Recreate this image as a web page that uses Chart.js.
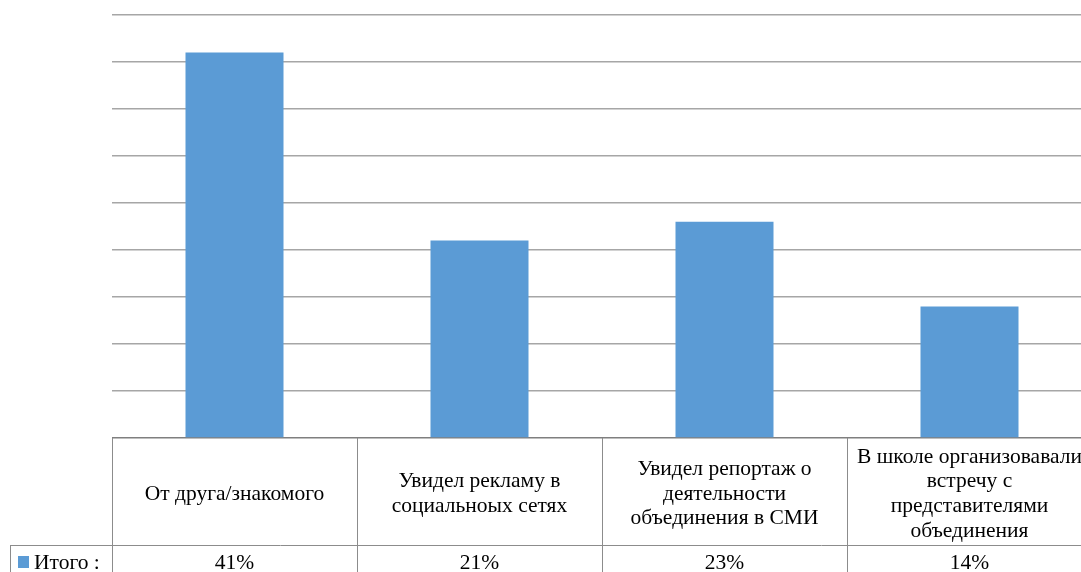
<!DOCTYPE html>
<html lang="ru">
  <head>
    <meta charset="UTF-8" />
    <script src="https://cdn.jsdelivr.net/npm/chart.js@4/dist/chart.umd.min.js"></script>
    <title>Chart</title>
    <style>
      html, body { margin: 0; padding: 0; overflow: hidden; background: #fff; }
      #wrap { width: 1100px; height: 572px; }
    </style>
  </head>
  <body>
    <div id="wrap"><canvas id="chart" width="1100" height="572"></canvas></div>

    <script>
      // data
      const categories = [
        ["От друга/знакомого"],
        ["Увидел рекламу в", "социальноых сетях"],
        ["Увидел репортаж о", "деятельности", "объединения в СМИ"],
        ["В школе организовавали", "встречу с", "представителями", "объединения"],
      ];
      const seriesName = "Итого :";
      const values = [41, 21, 23, 14];
      const yTicks = [0, 5, 10, 15, 20, 25, 30, 35, 40, 45];

      const barColor = "#5b9bd5";
      const lineColor = "#8c8c8c";
      const font = '21.5px "Liberation Serif", "Times New Roman", serif';

      // draws the data table under the bars
      const tablePlugin = {
        id: "dataTable",
        afterDraw(chart) {
          const ctx = chart.ctx;
          const x = chart.scales.x;
          const area = chart.chartArea;
          const half = (x.getPixelForValue(1) - x.getPixelForValue(0)) / 2;
          const top = area.bottom;
          const rowY = top + 107;
          const bottom = chart.height;

          ctx.save();
          ctx.strokeStyle = lineColor;
          ctx.lineWidth = 1;
          ctx.beginPath();
          for (let i = 0; i <= categories.length; i++) {
            const px = Math.round(x.getPixelForValue(i) - half) + 0.5;
            ctx.moveTo(px, top);
            ctx.lineTo(px, bottom);
          }
          ctx.moveTo(10, rowY + 0.5);
          ctx.lineTo(x.getPixelForValue(categories.length - 1) + half, rowY + 0.5);
          ctx.moveTo(10.5, rowY);
          ctx.lineTo(10.5, bottom);
          ctx.stroke();

          ctx.fillStyle = "#000";
          ctx.font = font;
          ctx.textAlign = "center";
          ctx.textBaseline = "middle";
          const midY = top + 56;
          const lh = 24.7;
          categories.forEach((lines, i) => {
            const cx = x.getPixelForValue(i);
            const y0 = midY - ((lines.length - 1) * lh) / 2;
            lines.forEach((t, j) => ctx.fillText(t, cx, y0 + j * lh));
            ctx.fillText(values[i] + "%", cx, rowY + 18);
          });

          // legend key
          ctx.fillStyle = barColor;
          ctx.fillRect(18, rowY + 11, 11, 12);
          ctx.fillStyle = "#000";
          ctx.textAlign = "left";
          ctx.fillText(seriesName, 34, rowY + 18);
          ctx.restore();
        },
      };

      const ctx = document.getElementById("chart").getContext("2d");
      const myChart = new Chart(ctx, {
        type: "bar",
        data: {
          labels: categories,
          datasets: [
            {
              label: seriesName,
              data: values,
              backgroundColor: barColor,
              borderWidth: 0,
              barPercentage: 0.4,
              categoryPercentage: 1,
            },
          ],
        },
        options: {
          responsive: false,
          animation: false,
          devicePixelRatio: 1,
          layout: {
            padding: { left: 112, right: 8, top: 15, bottom: 134 },
          },
          plugins: {
            legend: { display: false },
            tooltip: { enabled: false },
          },
          scales: {
            x: {
              display: false,
            },
            y: {
              min: yTicks[0],
              max: yTicks[yTicks.length - 1],
              afterBuildTicks: (axis) => {
                axis.ticks = yTicks.map((v) => ({ value: v }));
              },
              ticks: { display: false },
              border: { display: false },
              grid: {
                drawTicks: false,
                lineWidth: 1.5,
                color: (c) => (c.tick && c.tick.value === 0 ? "#7f7f7f" : "#a6a6a6"),
              },
            },
          },
        },
        plugins: [tablePlugin],
      });
    </script>
  </body>
</html>
